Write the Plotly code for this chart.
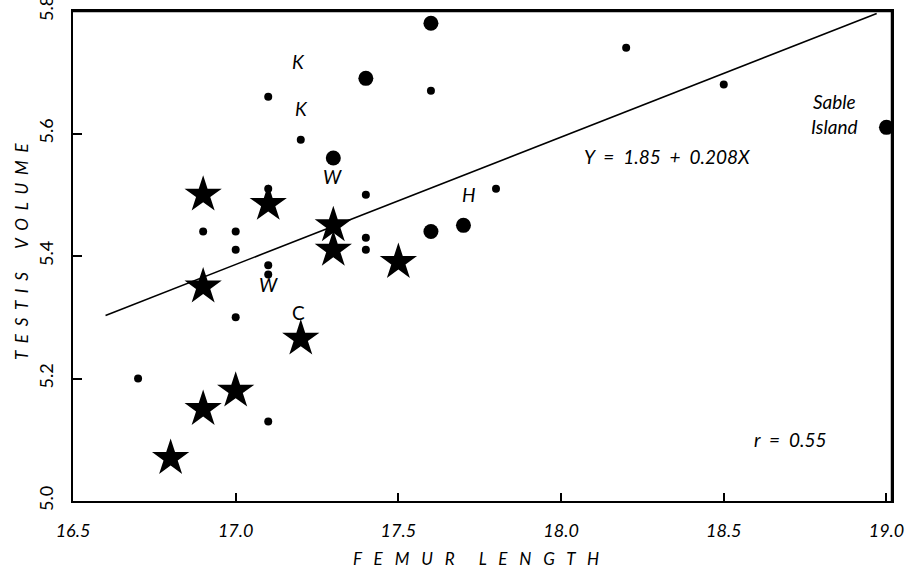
import plotly.graph_objects as go

# Small dots
small_x = [17.1, 17.6, 17.2, 18.2, 18.5, 17.1, 17.4, 16.9, 17.0, 17.0, 17.4, 17.4, 17.1, 17.1, 17.8, 17.0, 16.7, 17.1]
small_y = [5.66, 5.67, 5.59, 5.74, 5.68, 5.51, 5.50, 5.44, 5.44, 5.41, 5.43, 5.41, 5.385, 5.37, 5.51, 5.30, 5.20, 5.13]

# Large dots
large_x = [17.6, 17.4, 17.3, 17.6, 17.7, 19.0]
large_y = [5.78, 5.69, 5.56, 5.44, 5.45, 5.61]

# Stars
star_x = [16.9, 17.1, 17.3, 17.3, 17.5, 16.9, 17.2, 17.0, 16.9, 16.8]
star_y = [5.50, 5.485, 5.45, 5.41, 5.39, 5.35, 5.265, 5.18, 5.15, 5.07]

# Regression line endpoints (Y = 1.85 + 0.208X)
line_x = [16.6, 18.97]
line_y = [5.303, 5.796]

x_ticks = [16.5, 17.0, 17.5, 18.0, 18.5, 19.0]
x_tick_labels = ["16.5", "17.0", "17.5", "18.0", "18.5", "19.0"]
y_ticks = [5.0, 5.2, 5.4, 5.6, 5.8]
y_tick_labels = ["5.0", "5.2", "5.4", "5.6", "5.8"]

FONT = "Lato"


def spaced(words, inner=3, gap=6):
    return (" " * gap).join((" " * inner).join(w) for w in words)


fig = go.Figure()
fig.add_trace(go.Scatter(x=line_x, y=line_y, mode="lines",
                         line=dict(color="black", width=1.6), hoverinfo="skip"))
fig.add_trace(go.Scatter(x=small_x, y=small_y, mode="markers",
                         marker=dict(symbol="circle", size=8, color="black"), cliponaxis=False))
fig.add_trace(go.Scatter(x=large_x, y=large_y, mode="markers",
                         marker=dict(symbol="circle", size=15, color="black"), cliponaxis=False))
fig.add_trace(go.Scatter(x=star_x, y=star_y, mode="markers",
                         marker=dict(symbol="star", size=28, color="black"), cliponaxis=False))

ann_font = dict(family=FONT, size=19, color="black", style="italic")
title_font = dict(family=FONT, size=17, color="black", style="italic")
annotations = [
    dict(x=17.194, y=5.717, text="K"),
    dict(x=17.203, y=5.641, text="K"),
    dict(x=17.298, y=5.529, text="W"),
    dict(x=17.101, y=5.353, text="W"),
    dict(x=17.192, y=5.307, text="C", font=dict(family=FONT, size=19, color="black")),
    dict(x=17.717, y=5.50, text="H"),
    dict(x=18.841, y=5.632, text="Sable<br>Island"),
    dict(x=18.325, y=5.563, text="Y  =  1.85  +  0.208X"),
    dict(x=18.703, y=5.0996, text="r  =  0.55"),
]
for a in annotations:
    a.setdefault("font", ann_font)
    a.update(xref="x", yref="y", showarrow=False, xanchor="center", yanchor="middle")

# Axis titles as annotations (letter-spaced)
annotations.append(dict(xref="paper", yref="paper", x=0.4915, y=-0.117,
                        text=spaced(["FEMUR", "LENGTH"], inner=3, gap=6),
                        font=title_font, showarrow=False, xanchor="center", yanchor="middle"))
annotations.append(dict(xref="paper", yref="paper", x=0, xshift=-52, y=0.51,
                        text=spaced(["TESTIS", "VOLUME"], inner=2, gap=6),
                        textangle=-90,
                        font=title_font, showarrow=False, xanchor="center", yanchor="middle"))

fig.update_layout(
    width=909, height=569,
    margin=dict(l=73, r=17, t=11, b=68),
    paper_bgcolor="white", plot_bgcolor="white",
    showlegend=False,
    annotations=annotations,
    font=dict(family=FONT, color="black"),
    shapes=[
        dict(type="line", xref="paper", yref="paper", x0=0, y0=1, x1=1, y1=1,
             line=dict(color="black", width=2.5), layer="above"),
        dict(type="line", xref="paper", yref="paper", x0=1, y0=0, x1=1, y1=1,
             line=dict(color="black", width=2.5), layer="above"),
    ],
)
fig.update_xaxes(
    range=[16.5, 19.017], tickvals=x_ticks, ticktext=x_tick_labels,
    showgrid=False, zeroline=False, automargin=False,
    showline=True, linecolor="black", linewidth=2, mirror=True,
    ticks="inside", ticklen=8, tickwidth=2, tickcolor="black",
    tickfont=dict(family=FONT, size=18, style="italic", color="black"),
    ticklabelstandoff=12, ticklabeloverflow="allow",
)
fig.update_yaxes(
    range=[5.0, 5.8], tickvals=y_ticks, ticktext=y_tick_labels,
    showgrid=False, zeroline=False, automargin=False,
    showline=True, linecolor="black", linewidth=2, mirror=True,
    ticks="inside", ticklen=9, tickwidth=2, tickcolor="black",
    tickangle=-90,
    tickfont=dict(family=FONT, size=18, color="black"),
    ticklabelstandoff=11, ticklabeloverflow="allow",
)

fig.write_html("out.html", config={"displayModeBar": False},
               post_script="document.body.style.margin='0';document.body.style.overflow='hidden';")
